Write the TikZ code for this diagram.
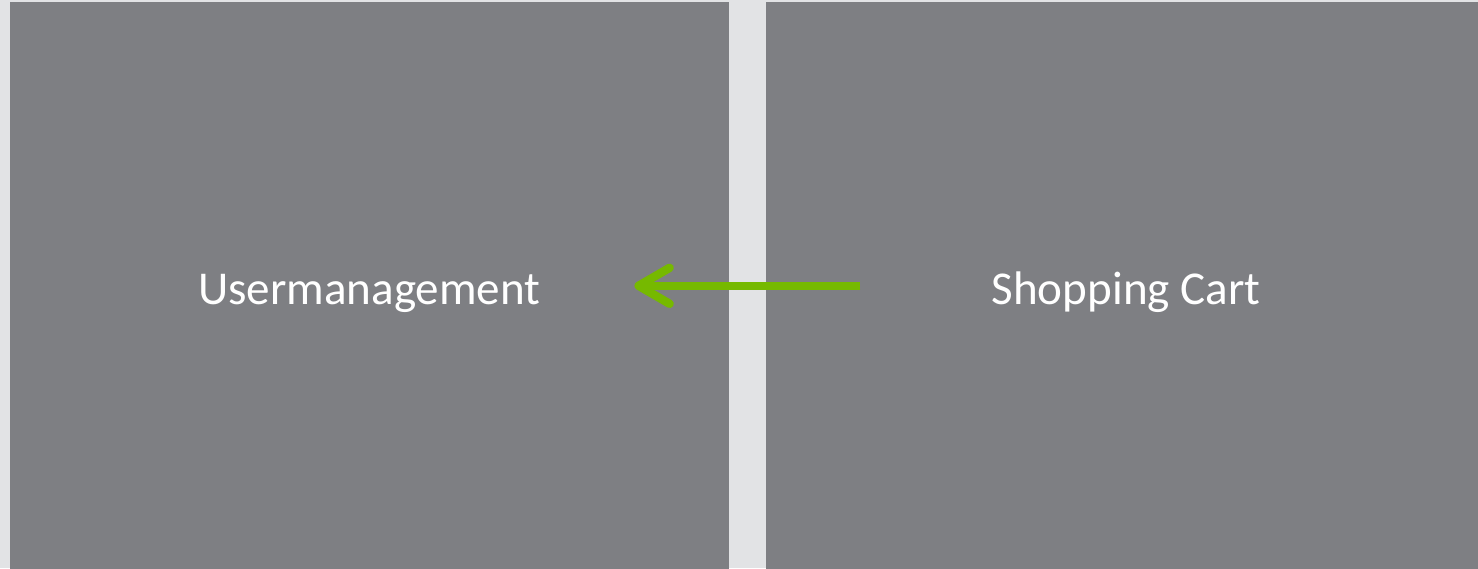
\documentclass[tikz,border=0pt]{standalone}
\usepackage{fontspec}
\setmainfont{Carlito}
\usepackage{tikz}
\usetikzlibrary{arrows.meta, positioning}
\definecolor{bggray}{HTML}{E2E3E5}
\definecolor{boxgray}{HTML}{7E7F83}
\definecolor{flowgreen}{HTML}{76B900}
\tikzstyle{context} = [rectangle, minimum width=7.19cm, minimum height=5.67cm, inner sep=0pt, text height=0.43cm, text depth=0.05cm, text centered, fill=boxgray, text=white, font=\fontsize{13.4}{16}\selectfont]
\tikzstyle{arrow} = [draw=flowgreen, line width=2.4pt, -{Straight Barb[length=3.1mm, width=3.6mm, round]}]

\begin{document}
\begin{tikzpicture}
        % Hintergrund
        \fill[bggray] (0,0) rectangle (14.78,5.68);
        \useasboundingbox (0,0) rectangle (14.78,5.68);

        % Kontexte
        \node (umgmt) [context, anchor=south west] at (0.09,-0.02) {Usermanagement};
        \node (cart) [context, minimum width=7.2cm, right=0.36cm of umgmt] {Shopping Cart};

        % Pfeil
        \draw [arrow] ([xshift=0.95cm]cart.west) -- ([xshift=-0.95cm]umgmt.east);
    \end{tikzpicture}
\end{document}
